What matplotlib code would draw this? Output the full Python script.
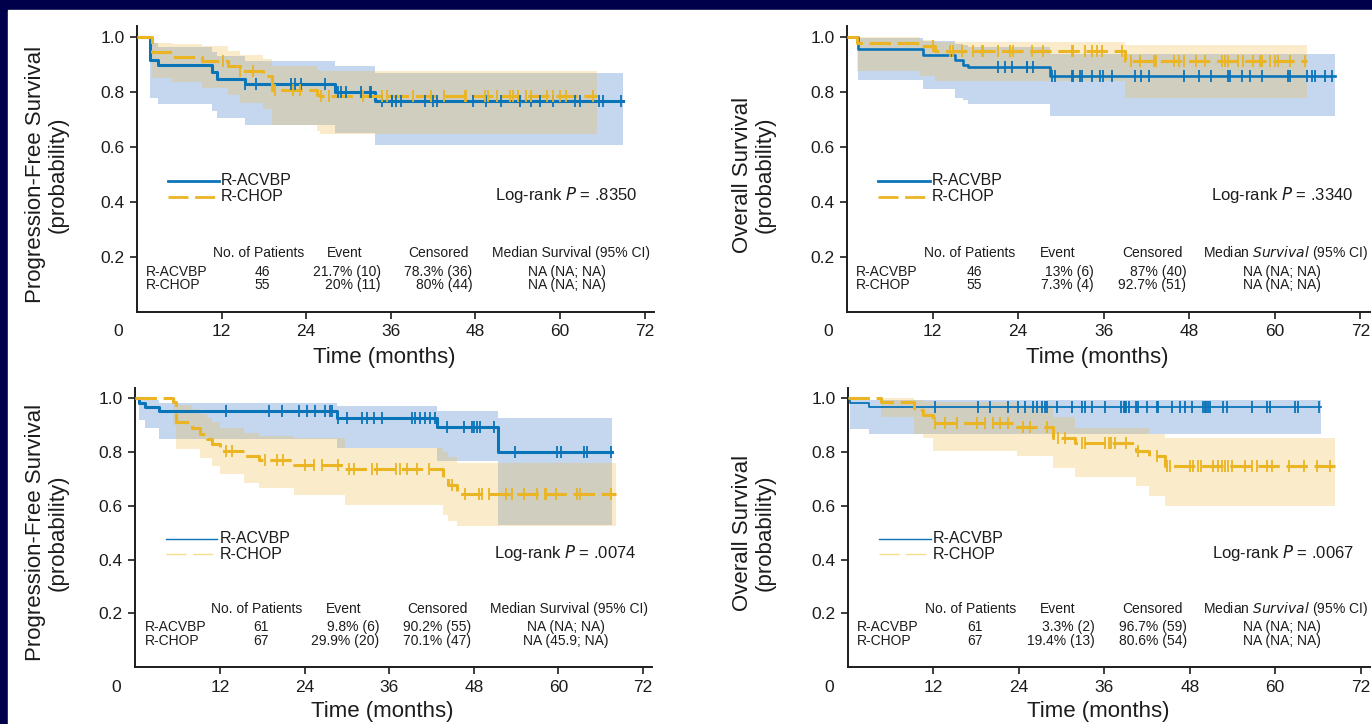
import numpy as np
import matplotlib
matplotlib.use('Agg')
import matplotlib.pyplot as plt
from matplotlib.patches import Rectangle
import matplotlib.transforms as mtrans

plt.rcParams['font.family'] = ['Liberation Sans', 'DejaVu Sans']
plt.rcParams['mathtext.fontset'] = 'custom'
plt.rcParams['mathtext.it'] = 'Liberation Sans Narrow:italic'
plt.rcParams['mathtext.rm'] = 'Liberation Sans Narrow'

NAVY = '#00004a'
BLUE = '#0a74b9'
GOLD = '#eab422'
BLUE_FILL = '#417dcd'
GOLD_FILL = '#efb733'
INK = '#1c1c1c'
NARROW = ['Liberation Sans Narrow', 'Liberation Sans', 'DejaVu Sans']

# ---- data (months / survival probability) ----
groups = ['R-ACVBP', 'R-CHOP']

# panel 1: progression-free survival, top
pfs1_a_t = [0, 1.8, 3.0, 10.6, 11.3, 15.3, 28.1, 33.8]
pfs1_a_s = [1, 0.917, 0.897, 0.871, 0.848, 0.829, 0.80, 0.768]
pfs1_a_hi = [1, 0.98, 0.965, 0.945, 0.93, 0.912, 0.893, 0.869]
pfs1_a_lo = [1, 0.78, 0.756, 0.73, 0.705, 0.679, 0.65, 0.606]
pfs1_a_end = 69.0
pfs1_a_cens = [15.3, 16.9, 21.9, 22.4, 23.3, 26.6, 28.5, 29.0, 29.7, 31.8, 33.0, 33.2,
               34.7, 36.1, 36.2, 36.8, 37.5, 40.8, 42.0, 42.5, 47.7, 49.5, 51.7, 54.3,
               55.9, 57.1, 59.0, 62.1, 62.8, 65.6, 66.1, 68.7]
pfs1_c_t = [0, 2.1, 4.9, 9.2, 12.9, 14.6, 17.9, 19.1, 25.5, 26.0]
pfs1_c_s = [1, 0.945, 0.927, 0.911, 0.893, 0.876, 0.858, 0.808, 0.79, 0.785]
pfs1_c_hi = [1, 0.98, 0.975, 0.966, 0.95, 0.935, 0.92, 0.893, 0.88, 0.875]
pfs1_c_lo = [1, 0.85, 0.835, 0.815, 0.79, 0.76, 0.74, 0.679, 0.66, 0.647]
pfs1_c_end = 65.2
pfs1_c_cens = [12.2, 14.6, 16.5, 19.6, 22.1, 23.1, 26.1, 27.3, 32.1, 34.7, 35.4, 39.1,
               41.7, 43.6, 46.5, 46.7, 49.3, 49.8, 51.0, 52.9, 53.3, 54.0, 55.2, 55.9,
               58.1, 59.0, 60.0, 60.9, 64.7]

# panel 2: overall survival, top
os1_a_t = [0, 1.6, 10.7, 15.1, 16.3, 17.0, 28.5]
os1_a_s = [1, 0.957, 0.933, 0.915, 0.90, 0.89, 0.859]
os1_a_hi = [1, 0.995, 0.985, 0.975, 0.97, 0.965, 0.938]
os1_a_lo = [1, 0.845, 0.811, 0.78, 0.77, 0.756, 0.714]
os1_a_end = 68.4
os1_a_cens = [21.2, 22.2, 23.1, 25.2, 25.3, 26.1, 28.7, 29.2, 31.5, 31.7, 32.7, 32.9,
              34.3, 35.5, 35.9, 37.1, 40.4, 41.3, 42.3, 47.2, 49.3, 51.1, 53.5, 53.7,
              55.4, 56.5, 58.2, 61.9, 62.1, 64.5, 65.2, 65.6, 67.0, 68.0]
os1_c_t = [0, 1.4, 10.2, 12.3, 39.0]
os1_c_s = [1, 0.978, 0.966, 0.948, 0.912]
os1_c_hi = [1, 1.0, 0.988, 0.982, 0.972]
os1_c_lo = [1, 0.875, 0.857, 0.841, 0.778]
os1_c_end = 64.5
os1_c_cens = [12.1, 14.4, 14.9, 16.1, 17.7, 18.9, 19.1, 21.2, 22.9, 23.3, 25.9, 27.5,
              31.5, 31.7, 33.4, 34.3, 35.0, 35.7, 38.5, 39.9, 41.1, 43.0, 43.4, 45.8,
              46.5, 47.2, 49.0, 50.2, 52.6, 53.0, 53.5, 54.9, 55.6, 57.0, 57.9, 58.2,
              59.3, 60.0, 60.5, 62.1, 64.2]

# panel 3: progression-free survival, bottom
pfs2_a_t = [0, 0.5, 1.3, 3.3, 28.6, 42.8, 51.5]
pfs2_a_s = [1, 0.984, 0.967, 0.951, 0.927, 0.892, 0.799]
pfs2_a_hi = [1, 1.0, 0.995, 0.982, 0.97, 0.954, 0.927]
pfs2_a_lo = [1, 0.92, 0.889, 0.85, 0.815, 0.765, 0.53]
pfs2_a_end = 67.6
pfs2_a_cens = [12.8, 18.9, 20.8, 23.2, 24.3, 25.5, 26.9, 27.6, 27.9, 28.8, 30.0, 32.1,
               32.9, 33.8, 35.0, 39.2, 39.7, 40.4, 41.1, 41.8, 42.5, 44.2, 46.6, 47.7,
               48.0, 48.5, 48.9, 50.8, 53.9, 59.8, 60.3, 63.6, 64.1, 67.4]
pfs2_c_t = [0, 5.4, 5.7, 8.0, 9.2, 10.2, 10.9, 12.0, 15.4, 17.5, 22.5, 29.8, 43.7, 44.4, 45.6]
pfs2_c_s = [1, 0.985, 0.91, 0.89, 0.866, 0.848, 0.83, 0.802, 0.786, 0.771, 0.75, 0.737,
            0.703, 0.679, 0.644]
pfs2_c_hi = [1, 1.0, 0.975, 0.96, 0.94, 0.925, 0.91, 0.89, 0.87, 0.86, 0.853, 0.815,
             0.80, 0.78, 0.759]
pfs2_c_lo = [1, 0.9, 0.81, 0.81, 0.777, 0.777, 0.747, 0.72, 0.685, 0.666, 0.641, 0.604,
             0.567, 0.542, 0.523]
pfs2_c_end = 68.1
pfs2_c_cens = [12.8, 13.7, 18.4, 20.1, 21.0, 24.1, 25.3, 26.5, 28.8, 30.3, 31.0, 33.6,
               34.3, 36.9, 37.6, 38.5, 39.9, 41.6, 44.9, 46.8, 48.7, 49.2, 50.1, 52.5,
               53.4, 55.1, 57.0, 58.1, 58.3, 59.6, 62.6, 63.1, 67.4]

# panel 4: overall survival, bottom
os2_a_t = [0, 0.3, 2.9]
os2_a_s = [1, 0.984, 0.967]
os2_a_hi = [1, 0.995, 0.995]
os2_a_lo = [1, 0.887, 0.868]
os2_a_end = 66.5
os2_a_cens = [12.2, 18.3, 19.9, 22.5, 23.9, 24.9, 26.0, 26.5, 27.2, 27.7, 27.9, 29.3,
              31.4, 32.8, 33.3, 34.2, 36.1, 38.4, 38.7, 38.9, 39.1, 39.4, 40.5, 40.8,
              42.0, 43.4, 43.6, 45.5, 46.6, 47.3, 48.3, 49.9, 50.1, 50.3, 50.6, 50.8,
              52.7, 53.2, 56.7, 58.8, 59.3, 62.8, 63.2, 66.1]
os2_c_t = [0, 4.7, 9.3, 10.6, 12.0, 23.7, 28.8, 31.9, 40.5, 42.3, 44.5]
os2_c_s = [1, 0.985, 0.955, 0.937, 0.908, 0.893, 0.852, 0.834, 0.805, 0.784, 0.747]
os2_c_hi = [1, 1.0, 0.995, 0.99, 0.985, 0.975, 0.93, 0.89, 0.89, 0.868, 0.852]
os2_c_lo = [1, 0.93, 0.868, 0.852, 0.805, 0.784, 0.74, 0.706, 0.672, 0.635, 0.598]
os2_c_end = 68.4
os2_c_cens = [12.2, 13.6, 15.3, 18.1, 19.2, 20.4, 21.3, 22.5, 24.6, 25.6, 27.9, 29.5,
              30.5, 32.8, 33.3, 36.1, 36.6, 37.0, 37.5, 39.1, 40.8, 43.4, 44.8, 45.2,
              48.0, 48.5, 49.2, 49.6, 51.3, 52.0, 52.5, 52.9, 53.4, 53.9, 55.8, 56.7,
              57.4, 58.8, 59.6, 61.9, 64.0, 65.9, 67.7]

# summary tables
pfs1_n = ['46', '55']
pfs1_event = ['21.7% (10)', '20% (11)']
pfs1_censored = ['78.3% (36)', '80% (44)']
pfs1_median = ['NA (NA; NA)', 'NA (NA; NA)']
os1_n = ['46', '55']
os1_event = ['13% (6)', '7.3% (4)']
os1_censored = ['87% (40)', '92.7% (51)']
os1_median = ['NA (NA; NA)', 'NA (NA; NA)']
pfs2_n = ['61', '67']
pfs2_event = ['9.8% (6)', '29.9% (20)']
pfs2_censored = ['90.2% (55)', '70.1% (47)']
pfs2_median = ['NA (NA; NA)', 'NA (45.9; NA)']
os2_n = ['61', '67']
os2_event = ['3.3% (2)', '19.4% (13)']
os2_censored = ['96.7% (59)', '80.6% (54)']
os2_median = ['NA (NA; NA)', 'NA (NA; NA)']

pvalues = ['.8350', '.3340', '.0074', '.0067']
ylabels = ['Progression-Free Survival\n(probability)', 'Overall Survival\n(probability)',
           'Progression-Free Survival\n(probability)', 'Overall Survival\n(probability)']

W, H = 1372, 724
fig = plt.figure(figsize=(W / 100, H / 100), dpi=100, facecolor=NAVY)
fig.patches.append(Rectangle((8 / W, 0), 1, 1 - 10 / H, transform=fig.transFigure,
                             color='white', zorder=-1))

XMAX = 73.3
# (left px of month 0, px per month, px of y=0, px per unit prob)
layout = [(137, 7.05, 312, 275), (847, 7.13, 312, 275),
          (135.4, 7.05, 667, 268.75), (848, 7.12, 667, 268.75)]

curves = [
    ((pfs1_a_t, pfs1_a_s, pfs1_a_lo, pfs1_a_hi, pfs1_a_end, pfs1_a_cens),
     (pfs1_c_t, pfs1_c_s, pfs1_c_lo, pfs1_c_hi, pfs1_c_end, pfs1_c_cens)),
    ((os1_a_t, os1_a_s, os1_a_lo, os1_a_hi, os1_a_end, os1_a_cens),
     (os1_c_t, os1_c_s, os1_c_lo, os1_c_hi, os1_c_end, os1_c_cens)),
    ((pfs2_a_t, pfs2_a_s, pfs2_a_lo, pfs2_a_hi, pfs2_a_end, pfs2_a_cens),
     (pfs2_c_t, pfs2_c_s, pfs2_c_lo, pfs2_c_hi, pfs2_c_end, pfs2_c_cens)),
    ((os2_a_t, os2_a_s, os2_a_lo, os2_a_hi, os2_a_end, os2_a_cens),
     (os2_c_t, os2_c_s, os2_c_lo, os2_c_hi, os2_c_end, os2_c_cens)),
]
tables = [(pfs1_n, pfs1_event, pfs1_censored, pfs1_median),
          (os1_n, os1_event, os1_censored, os1_median),
          (pfs2_n, pfs2_event, pfs2_censored, pfs2_median),
          (os2_n, os2_event, os2_censored, os2_median)]
# line widths (blue, gold) and legend style per panel
line_w = [(2.2, 2.2), (1.9, 2.2), (2.2, 2.2), (1.3, 2.2)]
legend_w = [2.0, 2.0, 1.0, 1.0]
legend_gold = [GOLD, GOLD, '#f6dc8e', '#f6dc8e']
ylab_x = [47, 754, 47, 754]


def draw_band(ax, t, lo, hi, end, fill, alpha):
    tt = np.append(t, end)
    ax.fill_between(tt, np.append(lo, lo[-1]), np.append(hi, hi[-1]), step='post',
                    color=fill, alpha=alpha, lw=0, zorder=1)


def draw_curve(ax, t, s, end, cens, color, lw, dashed):
    tt = np.append(t, end)
    ss = np.append(s, s[-1])
    ls = (0, (7, 2.2)) if dashed else '-'
    ax.step(tt, ss, where='post', color=color, lw=lw, ls=ls, zorder=3)
    idx = np.searchsorted(t, cens, side='right') - 1
    ax.plot(cens, np.asarray(s)[idx], ls='none', marker='|', ms=8, mew=1.3,
            color=color, zorder=4)


for i, (x0, sx, y0, sy) in enumerate(layout):
    ax = fig.add_axes([x0 / W, 1 - y0 / H, XMAX * sx / W, 1.04 * sy / H])
    ax.set_xlim(0, XMAX)
    ax.set_ylim(0, 1.04)
    for sp in ['top', 'right']:
        ax.spines[sp].set_visible(False)
    for sp in ['left', 'bottom']:
        ax.spines[sp].set_linewidth(1.4)
        ax.spines[sp].set_color(INK)
    ax.set_xticks([12, 24, 36, 48, 60, 72])
    ax.set_yticks([0.2, 0.4, 0.6, 0.8, 1.0])
    ax.set_yticklabels(['0.2', '0.4', '0.6', '0.8', '1.0'])
    ax.tick_params(length=5, width=1.2, labelsize=12.5, pad=4, color=INK,
                   labelcolor=INK)
    off = mtrans.offset_copy(ax.transData, fig=fig, y=-9, units='points')
    ax.text(-2.7, 0, '0', transform=off, ha='center', va='top', fontsize=12.5,
            color=INK)

    a, c = curves[i]
    draw_band(ax, a[0], a[2], a[3], a[4], BLUE_FILL, 0.3)
    draw_band(ax, c[0], c[2], c[3], c[4], GOLD_FILL, 0.25)
    draw_curve(ax, a[0], a[1], a[4], a[5], BLUE, line_w[i][0], False)
    draw_curve(ax, c[0], c[1], c[4], c[5], GOLD, line_w[i][1], True)

    # legend drawn as plain lines + text
    ax.plot([4.4, 11.6], [0.478, 0.478], color=BLUE, lw=legend_w[i])
    ax.plot([4.4, 11.6], [0.42, 0.42], color=legend_gold[i], lw=legend_w[i],
            ls=(0, (9 / legend_w[i] * 1.6, 3 / legend_w[i] * 1.6)))
    for yy, g in zip([0.478, 0.42], groups):
        ax.text(11.9, yy, g, fontsize=11.5, family=NARROW, va='center', ha='left',
                color=INK)
    ax.text(71.0, 0.425, 'Log-rank $\\it{P}$ = ' + pvalues[i], fontsize=12,
            family=NARROW, ha='right', va='center', color=INK)

    # summary table
    n, ev, ce, med = tables[i]
    hdr_y, row_y = 0.215, [0.147, 0.097]
    tkw = dict(fontsize=10, family=NARROW, va='center', color=INK)
    ax.text(17.2, hdr_y, 'No. of Patients', ha='center', **tkw)
    ax.text(29.5, hdr_y, 'Event', ha='center', **tkw)
    ax.text(42.8, hdr_y, 'Censored', ha='center', **tkw)
    if i % 2 == 1:
        ax.text(61.5, hdr_y, 'Median $\\it{Survival}$ (95% CI)', ha='center', **tkw)
    else:
        ax.text(61.5, hdr_y, 'Median Survival (95% CI)', ha='center', **tkw)
    for k in range(2):
        ax.text(1.3, row_y[k], groups[k], ha='left', **tkw)
        ax.text(17.8, row_y[k], n[k], ha='center', **tkw)
        ax.text(34.6, row_y[k], ev[k], ha='right', **tkw)
        ax.text(47.6, row_y[k], ce[k], ha='right', **tkw)
        ax.text(61.0, row_y[k], med[k], ha='center', **tkw)

    # axis titles
    fig.text(ylab_x[i] / W, 1 - (y0 - 0.5 * sy) / H, ylabels[i], rotation=90,
             ha='center', va='center', fontsize=16, color=INK, linespacing=1.1)
    fig.text((x0 + 36.5 * sx - 10) / W, 1 - (y0 + 45) / H, 'Time (months)',
             ha='center', va='center', fontsize=16, color=INK)

fig.savefig('out.png', dpi=100, facecolor=fig.get_facecolor())
